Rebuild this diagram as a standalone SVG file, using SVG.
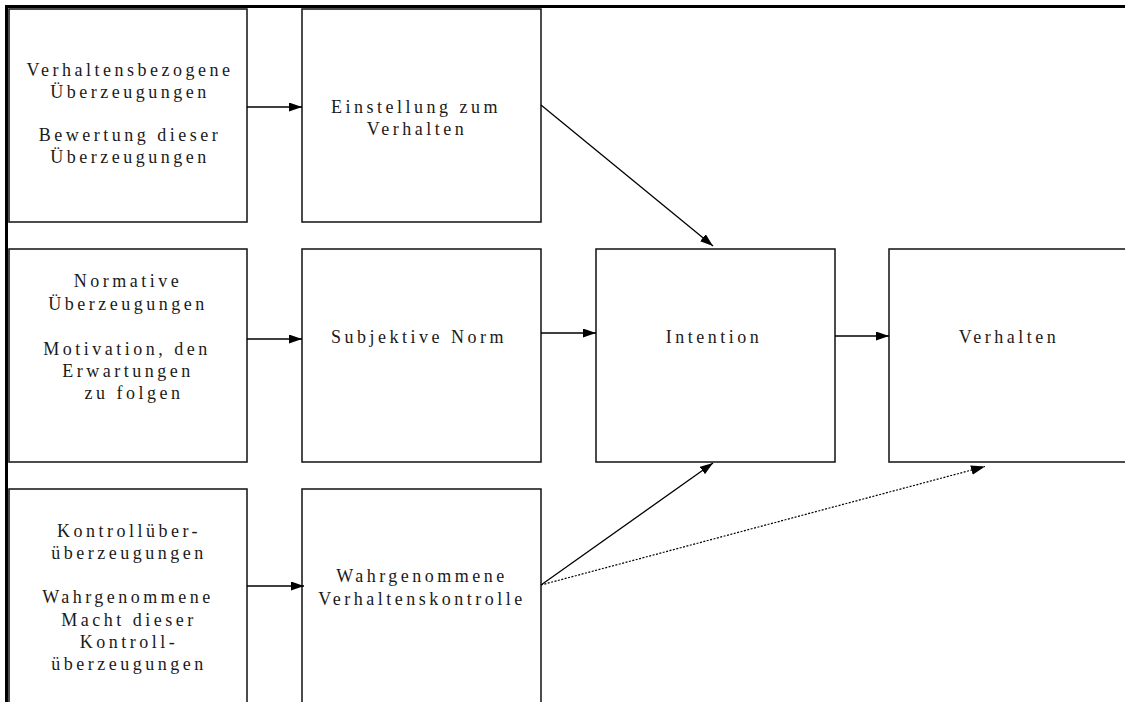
<svg xmlns="http://www.w3.org/2000/svg" width="1125" height="702" viewBox="0 0 1125 702">
<defs>
<marker id="ah" viewBox="0 0 13 9" refX="13" refY="4.5" markerWidth="13" markerHeight="9" markerUnits="userSpaceOnUse" orient="auto">
<path d="M0,0 L13,4.5 L0,9 Z" fill="#000"/>
</marker>
<marker id="ahd" viewBox="0 0 13 9" refX="13" refY="4.5" markerWidth="14" markerHeight="10" markerUnits="userSpaceOnUse" orient="auto">
<path d="M0,0 L13,4.5 L0,9 Z" fill="#000"/>
</marker>
</defs>
<style>
.box{fill:#fff;stroke:#111;stroke-width:1.5}
.t{font-family:"Liberation Serif","Times New Roman",serif;font-size:18px;letter-spacing:3.5px;fill:#1a1a1a;text-anchor:middle}
.c{stroke:#000;stroke-width:1.3;fill:none}
.d{stroke:#000;stroke-width:1.2;fill:none;stroke-dasharray:2 1.5}
.frame{stroke:#000;stroke-width:3;fill:none}
</style>
<rect width="1125" height="702" fill="#fff"/>
<g id="frame">
<path class="frame" d="M6.5,702 L6.5,6.5 L1125,6.5"/>
</g>
<g id="n1">
<rect class="box" x="9" y="9" width="238" height="213"/>
<text class="t" y="76"><tspan x="130">Verhaltensbezogene</tspan><tspan x="130" y="98">Überzeugungen</tspan><tspan x="130" y="141">Bewertung dieser</tspan><tspan x="130" y="163">Überzeugungen</tspan></text>
</g>
<g id="n2">
<rect class="box" x="302" y="9" width="239" height="213"/>
<text class="t" y="113"><tspan x="416">Einstellung zum</tspan><tspan x="417" y="135">Verhalten</tspan></text>
</g>
<g id="n3">
<rect class="box" x="9" y="249" width="238" height="213"/>
<text class="t" y="287"><tspan x="128">Normative</tspan><tspan x="128" y="310">Überzeugungen</tspan><tspan x="127" y="355">Motivation, den</tspan><tspan x="128" y="377">Erwartungen</tspan><tspan x="134" y="399">zu folgen</tspan></text>
</g>
<g id="n4">
<rect class="box" x="302" y="249" width="239" height="213"/>
<text class="t" x="419" y="343">Subjektive Norm</text>
</g>
<g id="n5">
<rect class="box" x="596" y="249" width="239" height="213"/>
<text class="t" x="714" y="343">Intention</text>
</g>
<g id="n6">
<rect class="box" x="889" y="249" width="260" height="213"/>
<text class="t" x="1009" y="343">Verhalten</text>
</g>
<g id="n7">
<rect class="box" x="9" y="489" width="238" height="240"/>
<text class="t" y="537"><tspan x="129">Kontrollüber-</tspan><tspan x="129" y="559">überzeugungen</tspan><tspan x="128" y="603">Wahrgenommene</tspan><tspan x="129" y="626">Macht dieser</tspan><tspan x="129" y="648">Kontroll-</tspan><tspan x="129" y="670">überzeugungen</tspan></text>
</g>
<g id="n8">
<rect class="box" x="302" y="489" width="239" height="240"/>
<text class="t" y="582"><tspan x="422">Wahrgenommene</tspan><tspan x="422" y="605">Verhaltenskontrolle</tspan></text>
</g>
<g id="connectors">
<line class="c" x1="247" y1="107" x2="302" y2="107" marker-end="url(#ah)"/>
<line class="c" x1="247" y1="339" x2="302" y2="339" marker-end="url(#ah)"/>
<line class="c" x1="247" y1="586" x2="304" y2="586" marker-end="url(#ah)"/>
<line class="c" x1="541" y1="105" x2="713" y2="246" marker-end="url(#ah)"/>
<line class="c" x1="541" y1="333" x2="596" y2="333" marker-end="url(#ah)"/>
<line class="c" x1="835" y1="336" x2="889" y2="336" marker-end="url(#ah)"/>
<line class="c" x1="541" y1="585" x2="713" y2="463" marker-end="url(#ah)"/>
<line class="d" x1="541" y1="585" x2="985" y2="466.5" marker-end="url(#ahd)"/>
</g>
</svg>
